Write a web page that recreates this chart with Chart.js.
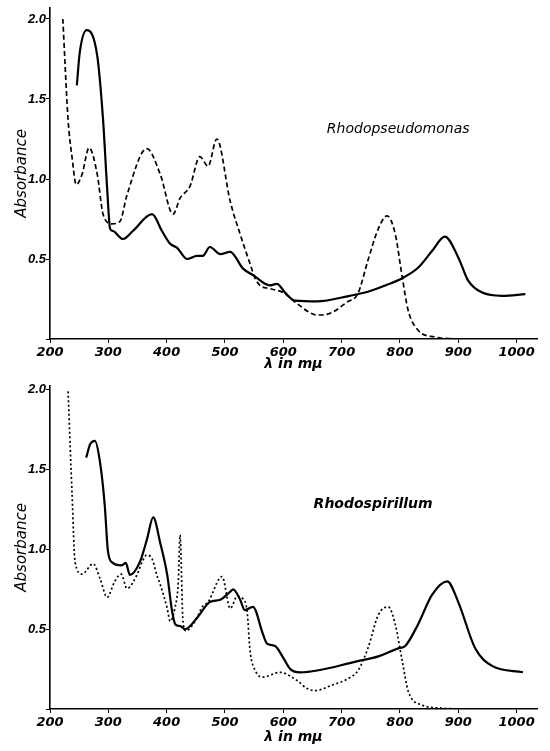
<!DOCTYPE html>
<html>
<head>
<script src="https://cdn.jsdelivr.net/npm/chart.js@4"></script>
<style>
  body { margin: 0; background: #fff; }
  .panel { position: absolute; left: 0; width: 550px; }
</style>
</head>
<body>
<div class="panel" style="top:0px"><canvas id="top" width="550" height="378"></canvas></div>
<div class="panel" style="top:378px"><canvas id="bottom" width="550" height="373"></canvas></div>
<script>
// wavelength in m\u03bc and absorbance
var xTicks = [200, 300, 400, 500, 600, 700, 800, 900, 1000];
var yTicks = [0.5, 1.0, 1.5, 2.0];

// Rhodopseudomonas
var rpsSolidX = [246, 251, 263, 281, 291, 298, 303, 308, 325, 342, 375, 392, 406, 418, 435, 452, 462, 474, 492, 509, 531, 548, 577, 589, 603, 620, 658, 714, 745, 775, 804, 831, 855, 877, 900, 917, 941, 975, 1015];
var rpsSolidY = [1.585, 1.79, 1.93, 1.77, 1.37, 0.94, 0.69, 0.675, 0.625, 0.675, 0.78, 0.675, 0.595, 0.57, 0.50, 0.52, 0.52, 0.575, 0.53, 0.545, 0.44, 0.40, 0.335, 0.345, 0.29, 0.24, 0.235, 0.27, 0.295, 0.335, 0.38, 0.445, 0.55, 0.64, 0.51, 0.365, 0.29, 0.27, 0.28];
var rpsDashX = [222, 231, 238, 245, 255, 267, 281, 291, 306, 320, 332, 366, 389, 411, 423, 440, 457, 471, 486, 509, 526, 543, 551, 560, 577, 600, 624, 658, 680, 709, 728, 745, 763, 778, 792, 804, 814, 831, 860, 895];
var rpsDashY = [2.0, 1.37, 1.13, 0.965, 1.03, 1.195, 1.03, 0.78, 0.72, 0.735, 0.90, 1.19, 1.03, 0.78, 0.88, 0.955, 1.14, 1.08, 1.25, 0.86, 0.655, 0.47, 0.385, 0.335, 0.315, 0.29, 0.22, 0.15, 0.16, 0.23, 0.285, 0.49, 0.69, 0.77, 0.655, 0.385, 0.18, 0.055, 0.012, 0];

// Rhodospirillum
var rspSolidX = [262, 269, 277, 286, 294, 299, 306, 323, 330, 337, 354, 366, 377, 389, 401, 409, 415, 423, 432, 452, 474, 492, 509, 514, 526, 534, 548, 565, 572, 586, 600, 612, 629, 728, 763, 797, 809, 831, 855, 881, 900, 929, 958, 1011];
var rspSolidY = [1.575, 1.66, 1.68, 1.54, 1.27, 1.0, 0.92, 0.90, 0.915, 0.84, 0.92, 1.06, 1.20, 1.04, 0.84, 0.62, 0.53, 0.52, 0.50, 0.57, 0.67, 0.685, 0.735, 0.75, 0.685, 0.62, 0.64, 0.47, 0.41, 0.395, 0.32, 0.25, 0.23, 0.30, 0.33, 0.38, 0.395, 0.53, 0.715, 0.80, 0.67, 0.38, 0.27, 0.23];
var rspDashX = [231, 238, 243, 255, 274, 286, 298, 311, 322, 332, 349, 359, 366, 375, 384, 389, 401, 406, 414, 420, 423, 428, 433, 452, 461, 471, 495, 509, 521, 531, 538, 543, 552, 565, 594, 623, 640, 654, 684, 711, 728, 745, 763, 780, 792, 804, 814, 838, 872, 907];
var rspDashY = [1.99, 1.33, 0.92, 0.845, 0.91, 0.815, 0.70, 0.80, 0.845, 0.755, 0.84, 0.93, 0.965, 0.94, 0.83, 0.78, 0.63, 0.55, 0.63, 0.80, 1.09, 0.55, 0.49, 0.57, 0.64, 0.67, 0.83, 0.63, 0.705, 0.69, 0.61, 0.365, 0.24, 0.20, 0.23, 0.18, 0.13, 0.115, 0.15, 0.19, 0.24, 0.38, 0.59, 0.64, 0.53, 0.30, 0.115, 0.025, 0.005, 0];

function pts(xs, ys) {
  return xs.map(function (x, i) { return { x: x, y: ys[i] }; });
}

// name of the organism, written inside the plot
var speciesLabel = {
  id: 'speciesLabel',
  afterDatasetsDraw: function (chart, args, opts) {
    var ctx = chart.ctx;
    ctx.save();
    ctx.font = opts.font;
    ctx.fillStyle = '#000';
    ctx.textAlign = 'center';
    ctx.textBaseline = 'middle';
    ctx.fillText(opts.text, chart.scales.x.getPixelForValue(opts.x), chart.scales.y.getPixelForValue(opts.y));
    ctx.restore();
  }
};

function makeChart(id, solid, dashed, dash, yMax, padTop, xHeight, label) {
  new Chart(document.getElementById(id), {
    type: 'line',
    data: {
      datasets: [{
        data: solid,
        borderColor: '#000',
        borderWidth: 2.2,
        pointRadius: 0,
        cubicInterpolationMode: 'monotone',
        fill: false
      }, {
        data: dashed,
        borderColor: '#000',
        borderWidth: 1.7,
        borderDash: dash,
        pointRadius: 0,
        cubicInterpolationMode: 'monotone',
        fill: false
      }]
    },
    options: {
      responsive: false,
      animation: false,
      layout: { padding: { top: padTop, right: 13, left: 0, bottom: 0 } },
      plugins: {
        legend: { display: false },
        tooltip: { enabled: false },
        speciesLabel: label
      },
      scales: {
        x: {
          type: 'linear',
          min: 200,
          max: 1035,
          afterFit: function (s) { s.height = xHeight; },
          border: { display: true, color: '#000', width: 1.6 },
          grid: { display: true, drawOnChartArea: false, drawTicks: true, tickLength: 4, color: '#000' },
          ticks: {
            stepSize: 100,
            includeBounds: false,
            maxRotation: 0,
            padding: 2,
            color: '#000',
            font: { family: 'DejaVu Sans', size: 13, style: 'italic', weight: 'bold' },
            callback: function (v) { return xTicks.indexOf(v) >= 0 ? String(v) : ''; }
          },
          title: {
            display: true,
            text: '\u03bb in m\u03bc',
            color: '#000',
            padding: { top: 0, bottom: 5 },
            font: { family: 'DejaVu Sans', size: 14, style: 'italic', weight: 'bold' }
          }
        },
        y: {
          min: 0,
          max: yMax,
          afterFit: function (s) { s.width = 50; },
          border: { display: true, color: '#000', width: 1.6 },
          grid: { display: true, drawOnChartArea: false, drawTicks: true, tickLength: 4, color: '#000' },
          ticks: {
            stepSize: 0.5,
            includeBounds: false,
            padding: 0,
            color: '#000',
            font: { family: 'Liberation Sans', size: 13, style: 'italic', weight: 'bold' },
            callback: function (v) { return yTicks.indexOf(v) >= 0 ? v.toFixed(1) : ''; }
          },
          title: {
            display: true,
            text: 'Absorbance',
            color: '#000',
            padding: { top: 13, bottom: 0 },
            font: { family: 'DejaVu Sans', size: 15, style: 'italic' }
          }
        }
      }
    },
    plugins: [speciesLabel]
  });
}

makeChart('top', pts(rpsSolidX, rpsSolidY), pts(rpsDashX, rpsDashY), [5, 3], 2.07, 5, 39,
  { text: 'Rhodopseudomonas', x: 797, y: 1.31, font: 'italic 14px "DejaVu Sans"' });
makeChart('bottom', pts(rspSolidX, rspSolidY), pts(rspDashX, rspDashY), [2, 2.5], 2.025, 3, 42,
  { text: 'Rhodospirillum', x: 754, y: 1.28, font: 'italic bold 14px "DejaVu Sans"' });
</script>
</body>
</html>
